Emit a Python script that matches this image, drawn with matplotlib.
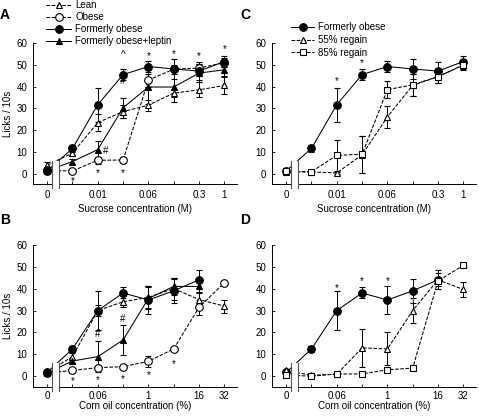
import numpy as np
import matplotlib
matplotlib.use('Agg')
import matplotlib.pyplot as plt
from matplotlib.patches import Rectangle
from matplotlib.lines import Line2D

plt.rcParams['font.family'] = ['Liberation Sans', 'DejaVu Sans']
plt.rcParams['font.size'] = 7

nan = np.nan
idx = np.arange(8)

# x tick labels (only some concentrations are labelled)
suc_ticks = {0: '0', 2: '0.01', 4: '0.06', 6: '0.3', 7: '1'}
oil_ticks = {0: '0', 2: '0.06', 4: '1', 6: '16', 7: '32'}

# sucrose data (licks / 10s)
lean_suc = [4.0, 9.5, 23.5, 28.5, 31.5, 37.0, 38.5, 40.5]
lean_suc_err = [1.5, 1.0, 4.0, 3.0, 2.5, 2.0, 3.5, 4.0]
obese_suc = [1.5, 1.3, 6.2, 6.3, 43.0, 48.0, 48.5, 51.0]
obese_suc_err = [0.5, 0.5, 1.5, 1.5, 3.0, 2.0, 2.0, 2.0]
fo_suc = [1.3, 11.6, 31.7, 45.5, 49.2, 48.1, 47.1, 51.5]
fo_suc_err = [0.5, 1.5, 7.8, 2.5, 2.5, 4.5, 4.0, 2.5]
lep_suc = [1.4, 5.6, 11.1, 30.3, 39.8, 39.8, 46.2, 47.7]
lep_suc_err = [0.5, 1.0, 4.0, 4.5, 8.0, 7.0, 4.0, 3.0]
r55_suc = [1.0, 0.8, 0.4, 8.7, 26.1, 40.6, 44.5, 50.0]
r55_suc_err = [0.5, 0.5, 0.5, 8.5, 5.0, 5.0, 3.0, 2.0]
r85_suc = [1.1, 0.9, 8.5, 8.9, 38.6, 40.8, 44.6, 49.8]
r85_suc_err = [0.5, 0.5, 7.2, 8.4, 4.0, 5.0, 3.0, 2.0]

# corn oil data
lean_oil = [2.0, 9.0, 30.0, 34.0, 36.0, 40.0, 35.0, 32.0]
lean_oil_err = [0.5, 1.5, 2.5, 2.5, 5.0, 5.0, 3.5, 3.0]
obese_oil = [1.5, 2.7, 4.0, 4.4, 6.9, 12.5, 31.5, 42.6]
obese_oil_err = [0.5, 1.0, 1.0, 1.0, 2.5, 1.0, 3.5, 1.0]
fo_oil = [1.8, 12.5, 30.0, 38.0, 34.8, 39.0, 44.0, nan]
fo_oil_err = [0.5, 1.5, 8.8, 2.5, 6.3, 5.5, 4.3, nan]
lep_oil = [1.5, 7.0, 9.0, 16.6, 35.5, 41.0, 41.0, nan]
lep_oil_err = [0.5, 1.0, 7.0, 7.0, 5.0, 4.0, 3.0, nan]
r55_oil = [2.7, 0.5, 1.0, 13.0, 12.5, 30.0, 44.0, 39.6]
r55_oil_err = [0.5, 0.5, 0.5, 8.5, 7.5, 5.5, 3.0, 3.5]
r85_oil = [0.6, 0.1, 1.1, 1.1, 3.0, 3.8, 43.5, 50.6]
r85_oil_err = [0.5, 0.5, 0.5, 0.5, 1.0, 1.0, 1.5, 0.5]

# significance marks: (text, x index, y)
marks_a = [('*', 1, -3.2), ('*', 2, 0.2), ('*', 3, 0.2), ('^', 3, 54.5), ('#', 3, 42.5),
           ('#', 2.3, 10.5), ('*', 4, 54.2), ('*', 5, 54.7), ('*', 6, 54.2), ('*', 7, 57.2)]
marks_c = [('*', 2, 42.7), ('*', 3, 50.7)]
marks_b = [('*', 1, -2.2), ('*', 2, -1.7), ('*', 3, -1.0), ('*', 4, 0.8), ('*', 5, 5.6),
           ('#', 2, 19.3), ('#', 3, 26.3)]
marks_d = [('*', 2, 40.2), ('*', 3, 43.2), ('*', 4, 43.2)]

DASH = (0, (3.5, 1.5))
styles = {
    'lean': dict(marker='^', ls=DASH, mfc='white', ms=5),
    'obese': dict(marker='o', ls=DASH, mfc='white', ms=5.5),
    'fo': dict(marker='o', ls='-', mfc='black', ms=5.5),
    'lep': dict(marker='^', ls='-', mfc='black', ms=5),
    'r55': dict(marker='^', ls=DASH, mfc='white', ms=5),
    'r85': dict(marker='s', ls=DASH, mfc='white', ms=4.5),
}


def draw(ax, y, err, key):
    st = styles[key]
    ax.errorbar(idx, y, yerr=err, color='black', lw=0.75, ls=st['ls'],
                marker=st['marker'], mfc=st['mfc'], mec='black', mew=0.8,
                ms=st['ms'], elinewidth=0.7, capsize=2, capthick=0.7)


def setup(ax, ticks, xlabel, ylabel, xl_y, pad):
    ax.set_xlim(-0.56, 7.5)
    ax.set_ylim(-4.7, 60)
    ax.spines['top'].set_visible(False)
    ax.spines['right'].set_visible(False)
    ax.spines['left'].set_linewidth(0.7)
    ax.spines['bottom'].set_linewidth(0.7)
    ax.set_xticks(idx)
    ax.set_xticklabels([ticks.get(i, '') for i in idx])
    ax.set_yticks(range(0, 61, 10))
    ax.tick_params(direction='in', length=2.5, width=0.6, labelsize=7, pad=4)
    ax.tick_params(axis='x', pad=pad)
    ax.set_xlabel(xlabel, fontsize=7)
    ax.xaxis.set_label_coords(0.5, xl_y)
    if ylabel:
        ax.set_ylabel(ylabel, fontsize=7)
        ax.yaxis.set_label_coords(-0.1, 0.5)
    # axis break
    ax.add_patch(Rectangle((0.2, -6.5), 0.26, 12.5, facecolor='white',
                           edgecolor='none', zorder=10, clip_on=False))
    for xb in (0.2, 0.46):
        ax.plot([xb, xb], [-6.5, 6], color='#555555', lw=0.8, zorder=11, clip_on=False)


def annotate(ax, marks, color='black'):
    for t, x, y in marks:
        ax.text(x, y, t, ha='center', va='center', fontsize=7, color=color, zorder=12)


fig = plt.figure(figsize=(4.79, 4.16), dpi=100)
W, H = 479, 416
axA = fig.add_axes([33 / W, 1 - 184 / H, 204 / W, 141 / H])
axC = fig.add_axes([272 / W, 1 - 184 / H, 204 / W, 141 / H])
axB = fig.add_axes([33 / W, 1 - 386.7 / H, 204 / W, 142 / H])
axD = fig.add_axes([272 / W, 1 - 386.7 / H, 204 / W, 142 / H])

# A
draw(axA, lean_suc, lean_suc_err, 'lean')
draw(axA, obese_suc, obese_suc_err, 'obese')
draw(axA, fo_suc, fo_suc_err, 'fo')
draw(axA, lep_suc, lep_suc_err, 'lep')
setup(axA, suc_ticks, 'Sucrose concentration (M)', 'Licks / 10s', -0.145, 4)
annotate(axA, marks_a)

# C
draw(axC, fo_suc, fo_suc_err, 'fo')
draw(axC, r55_suc, r55_suc_err, 'r55')
draw(axC, r85_suc, r85_suc_err, 'r85')
setup(axC, suc_ticks, 'Sucrose concentration (M)', None, -0.145, 4)
annotate(axC, marks_c)

# B
draw(axB, lean_oil, lean_oil_err, 'lean')
draw(axB, obese_oil, obese_oil_err, 'obese')
draw(axB, fo_oil, fo_oil_err, 'fo')
draw(axB, lep_oil, lep_oil_err, 'lep')
setup(axB, oil_ticks, 'Corn oil concentration (%)', 'Licks / 10s', -0.1, 3)
annotate(axB, marks_b)

# D
draw(axD, fo_oil, fo_oil_err, 'fo')
draw(axD, r55_oil, r55_oil_err, 'r55')
draw(axD, r85_oil, r85_oil_err, 'r85')
setup(axD, oil_ticks, 'Corn oil concentration (%)', None, -0.1, 3)
annotate(axD, marks_d)
annotate(axD, [('*', 5, 33.8)], color='#aaaaaa')


def handle(key):
    st = styles[key]
    return Line2D([], [], color='black', lw=0.75, ls=st['ls'], marker=st['marker'],
                  mfc=st['mfc'], mec='black', mew=0.8, ms=st['ms'])


fig.legend([handle('lean'), handle('obese'), handle('fo'), handle('lep')],
           ['Lean', 'Obese', 'Formerly obese', 'Formerly obese+leptin'],
           loc='upper left', bbox_to_anchor=(46 / W, 1 - 0 / H), frameon=False,
           fontsize=7, handlelength=2.6, handletextpad=0.4, labelspacing=0.22,
           borderpad=0, borderaxespad=0)
fig.legend([handle('fo'), handle('r55'), handle('r85')],
           ['Formerly obese', '55% regain', '85% regain'],
           loc='upper left', bbox_to_anchor=(291 / W, 1 - 22 / H), frameon=False,
           fontsize=7, handlelength=2.4, handletextpad=0.4, labelspacing=0.3,
           borderpad=0, borderaxespad=0)

for lbl, x, y in [('A', 5, 15), ('B', 5, 220), ('C', 245, 15), ('D', 245, 220)]:
    fig.text(x / W, 1 - y / H, lbl, fontsize=10, fontweight='bold', ha='center', va='center')

fig.savefig('out.png', dpi=100)
